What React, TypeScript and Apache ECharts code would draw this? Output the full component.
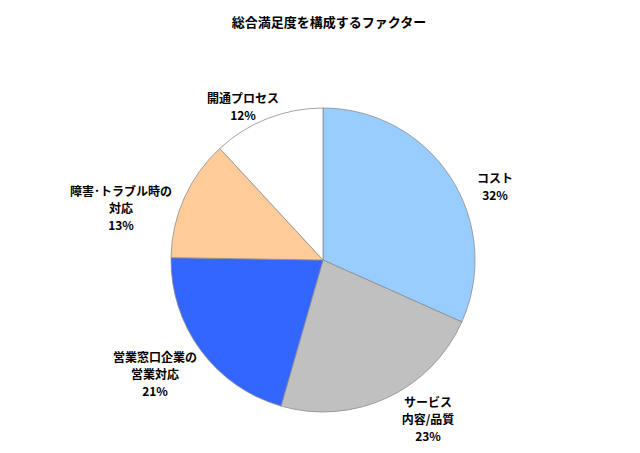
import React, { useEffect, useRef } from "react";
import * as echarts from "echarts";

const title = "総合満足度を構成するファクター";
const categories = ["コスト", "サービス\n内容/品質", "営業窓口企業の\n営業対応", "障害･トラブル時の\n対応", "開通プロセス"];
const shares = [32, 23, 21, 13, 12];

// slice colours, clockwise from the top
const colors = ["#99CCFF", "#C0C0C0", "#3366FF", "#FFCC99", "#FFFFFF"];
// label centres (px) in the 640x453 frame
const labelPos = [
  [495, 186],
  [428, 418],
  [155, 373],
  [121, 207],
  [243, 106],
];

export default function App() {
  const chartRef = useRef<HTMLDivElement>(null);

  useEffect(() => {
    if (!chartRef.current) return;
    const chart = echarts.init(chartRef.current, null, { renderer: "svg" });

    chart.setOption({
      animation: false,
      backgroundColor: "#ffffff",
      title: {
        text: title,
        left: 324,
        textAlign: "center",
        top: 10,
        textStyle: {
          fontFamily: "Noto Sans CJK JP",
          fontSize: 13,
          fontWeight: "bold",
          color: "#000000",
        },
      },
      series: [
        {
          type: "pie",
          center: [323, 260],
          radius: 152,
          startAngle: 90,
          clockwise: true,
          data: categories.map((name, i) => ({
            name,
            value: shares[i],
            itemStyle: { color: colors[i] },
          })),
          itemStyle: { borderColor: "#8c8c8c", borderWidth: 0.8 },
          label: {
            show: true,
            position: "outside",
            formatter: (p: any) => `${p.name}\n${p.value}%`,
            fontFamily: "Noto Sans CJK JP",
            fontSize: 12,
            fontWeight: "bold",
            lineHeight: 17,
            color: "#000000",
            align: "center",
          },
          labelLine: { show: false },
          labelLayout: (params: any) => ({
            x: labelPos[params.dataIndex][0],
            y: labelPos[params.dataIndex][1],
            align: "center",
            verticalAlign: "middle",
          }),
          emphasis: { disabled: true },
        },
      ],
    });

    return () => {
      chart.dispose();
    };
  }, []);

  return (
    <div
      ref={chartRef}
      style={{ position: "fixed", left: 0, top: 0, width: 640, height: 453 }}
    ></div>
  );
}
